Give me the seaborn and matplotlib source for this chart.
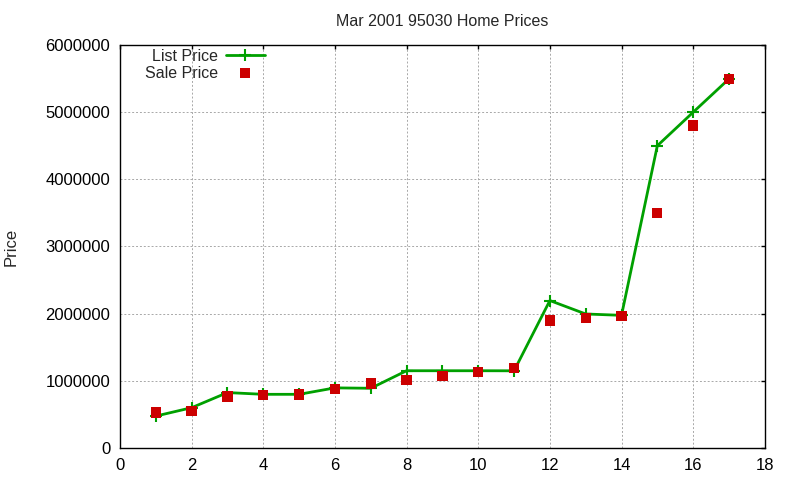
import pandas as pd
import seaborn as sns
import matplotlib
matplotlib.use("Agg")
import matplotlib.pyplot as plt
from matplotlib.ticker import FuncFormatter

# data
house = list(range(1, 18))
list_price = [475000, 600000, 825000, 799000, 799000, 895000, 889000, 1150000, 1150000,
              1150000, 1149000, 2195000, 1995000, 1975000, 4500000, 4999000, 5495000]
sale_price = [530000, 550000, 765000, 790000, 795000, 880000, 960000, 1010000, 1075000,
              1130000, 1190000, 1900000, 1940000, 1970000, 3500000, 4800000, 5490000]

df = pd.DataFrame({"house": house, "list": list_price, "sale": sale_price})

sns.set_style("white")
plt.rcParams['font.family'] = ['Liberation Sans', 'DejaVu Sans']

fig = plt.figure(figsize=(8, 4.8), dpi=100)
ax = fig.add_axes([0.15, 0.0667, 0.806, 0.8396])

sns.lineplot(data=df, x="house", y="list", ax=ax, color="#00a000", linewidth=2,
             marker="+", markersize=9, markeredgewidth=1.5, markeredgecolor="#00a000",
             label="List Price")
sns.scatterplot(data=df, x="house", y="sale", ax=ax, color="#cc0000", marker="s",
                s=55, edgecolor="none", label="Sale Price", zorder=3)

ax.set_xlim(0, 18)
ax.set_ylim(0, 6000000)
ax.set_xticks(range(0, 19, 2))
ax.set_yticks(range(0, 6000001, 1000000))
ax.yaxis.set_major_formatter(FuncFormatter(lambda v, p: f"{int(v)}"))
ax.grid(True, color="#a8a8a8", linestyle=(0, (2, 2)), linewidth=0.7)
ax.tick_params(direction="in", top=True, right=True, length=3, width=1,
               labelsize=12, colors="black", pad=7)
for s in ax.spines.values():
    s.set_color("black")
    s.set_linewidth(1)

ax.set_xlabel("")
ax.set_ylabel("Price", fontsize=12, labelpad=19)
ax.set_title("Mar 2001 95030 Home Prices", fontsize=11.5, pad=14)

leg = ax.legend(loc="upper left", bbox_to_anchor=(0.024, 1.014), frameon=False,
                markerfirst=False, fontsize=11.5, handlelength=2.4, borderaxespad=0.2,
                labelspacing=0.1, handletextpad=0.5)

plt.savefig("out.png", dpi=100)
